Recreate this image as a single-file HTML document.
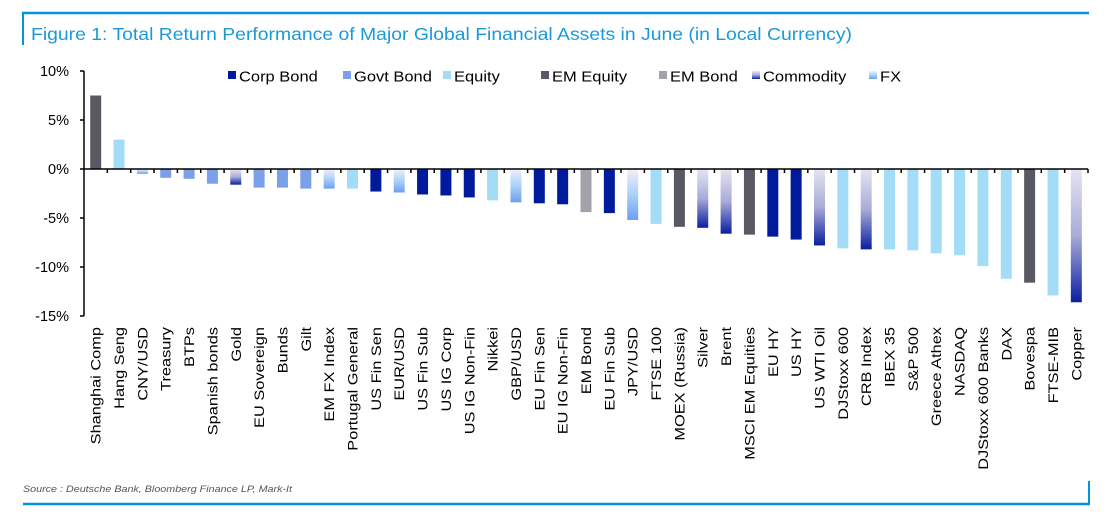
<!DOCTYPE html>
<html><head><meta charset="utf-8"><style>
html,body{margin:0;padding:0;background:#fff;}
body{width:1114px;height:522px;position:relative;overflow:hidden;font-family:"Liberation Sans",sans-serif;}
</style></head><body>
<svg id="chart" width="1114" height="522" xmlns="http://www.w3.org/2000/svg">
<defs>
<linearGradient id="gComm" x1="0" y1="0" x2="0" y2="1"><stop offset="0" stop-color="#e4e4f2"/><stop offset="0.5" stop-color="#a9abd8"/><stop offset="1" stop-color="#0a1fa0"/></linearGradient>
<linearGradient id="gFX" x1="0" y1="0" x2="0" y2="1"><stop offset="0" stop-color="#f4eef8"/><stop offset="0.5" stop-color="#a9d2fa"/><stop offset="1" stop-color="#6e9ff0"/></linearGradient>
</defs>
<line x1="22" y1="13" x2="1089" y2="13" stroke="#0096dc" stroke-width="2.5"/>
<line x1="23" y1="12" x2="23" y2="45" stroke="#0096dc" stroke-width="2"/>
<line x1="23" y1="504" x2="1090" y2="504" stroke="#0096dc" stroke-width="2.5"/>
<line x1="1089" y1="481" x2="1089" y2="505" stroke="#0096dc" stroke-width="2"/>
<text x="31" y="40" font-size="17.5" fill="#1a9ad9" textLength="821" lengthAdjust="spacingAndGlyphs">Figure 1: Total Return Performance of Major Global Financial Assets in June (in Local Currency)</text>
<text x="23" y="492" font-size="9.5" font-style="italic" fill="#555" textLength="269" lengthAdjust="spacingAndGlyphs">Source : Deutsche Bank, Bloomberg Finance LP, Mark-It</text>
<g id="plot"></g>
<g id="legend"></g>
</svg>
<script>
const categories=["Shanghai Comp","Hang Seng","CNY/USD","Treasury","BTPs","Spanish bonds","Gold","EU Sovereign","Bunds","Gilt","EM FX Index","Portugal General","US Fin Sen","EUR/USD","US Fin Sub","US IG Corp","US IG Non-Fin","Nikkei","GBP/USD","EU Fin Sen","EU IG Non-Fin","EM Bond","EU Fin Sub","JPY/USD","FTSE 100","MOEX (Russia)","Silver","Brent","MSCI EM Equities","EU HY","US HY","US WTI Oil","DJStoxx 600","CRB Index","IBEX 35","S&P 500","Greece Athex","NASDAQ","DJStoxx 600 Banks","DAX","Bovespa","FTSE-MIB","Copper"];
const values=[7.5,3.0,-0.5,-0.9,-1.0,-1.5,-1.6,-1.9,-1.9,-2.0,-2.0,-2.0,-2.3,-2.4,-2.6,-2.7,-2.9,-3.2,-3.4,-3.5,-3.6,-4.4,-4.5,-5.2,-5.6,-5.9,-6.0,-6.6,-6.7,-6.9,-7.2,-7.8,-8.1,-8.2,-8.2,-8.3,-8.6,-8.8,-9.9,-11.2,-11.6,-12.9,-13.6];
const types=["EM Equity","Equity","FX","Govt Bond","Govt Bond","Govt Bond","Commodity","Govt Bond","Govt Bond","Govt Bond","FX","Equity","Corp Bond","FX","Corp Bond","Corp Bond","Corp Bond","Equity","FX","Corp Bond","Corp Bond","EM Bond","Corp Bond","FX","Equity","EM Equity","Commodity","Commodity","EM Equity","Corp Bond","Corp Bond","Commodity","Equity","Commodity","Equity","Equity","Equity","Equity","Equity","Equity","EM Equity","Equity","Commodity"];
const seriesNames=["Corp Bond","Govt Bond","Equity","EM Equity","EM Bond","Commodity","FX"];
const yTicks=[10,5,0,-5,-10,-15];
const yTickLabels=["10%","5%","0%","-5%","-10%","-15%"];
const fills={"Corp Bond":"#001a9c","Govt Bond":"#7b9fe8","Equity":"#a3dcf7","EM Equity":"#595963","EM Bond":"#a2a2ab","Commodity":"url(#gComm)","FX":"url(#gFX)"};
const NS="http://www.w3.org/2000/svg";
const X0=84,X1=1088,Y10=71,Ym15=316;
const y=v=>Y10+(10-v)*(Ym15-Y10)/25;
const step=(X1-X0)/categories.length;
const x=i=>X0+step*(i+0.5);
const plot=document.getElementById('plot');
function mk(tag,attrs,parent){const e=document.createElementNS(NS,tag);for(const k in attrs)e.setAttribute(k,attrs[k]);parent.appendChild(e);return e;}
let ax=mk('line',{x1:X0,y1:y(10),x2:X0,y2:y(-15),stroke:'#000','stroke-width':1.5},plot);


yTicks.forEach((t,i)=>{
 let tk=mk('line',{x1:X0-4,y1:y(t),x2:X0,y2:y(t),stroke:'#000','stroke-width':1.5},plot);
 
 
 let tx=mk('text',{x:69,y:y(t)+5,'font-size':14.5,'text-anchor':'end',fill:'#000'},plot);
 tx.textContent=yTickLabels[i];
 
 
});
categories.forEach((c,i)=>{
 const v=values[i];
 let r=mk('rect',{x:x(i)-5.5,y:Math.min(y(v),y(0)),width:11,height:Math.abs(y(v)-y(0)),fill:fills[types[i]]},plot);
 
 
 let tx=mk('text',{transform:`translate(${x(i)+5},327) rotate(-90) scale(1.17,1)`,'font-size':14,'text-anchor':'end',fill:'#000'},plot);
 tx.textContent=c;
 
 
 let tk=mk('line',{x1:X0+step*(i+1),y1:y(0),x2:X0+step*(i+1),y2:y(0)+4,stroke:'#000','stroke-width':1.5},plot);
 
 
});
let zl=mk('line',{x1:X0,y1:y(0),x2:X1,y2:y(0),stroke:'#000','stroke-width':1.5},plot);


const leg=document.getElementById('legend');
const legX=[228,343,443,541,659,752,869];
seriesNames.forEach((s,i)=>{
 let g=mk('g',{},leg);
 
 
 mk('rect',{x:legX[i],y:71,width:8,height:8,fill:fills[s]},g);
 let t=mk('text',{transform:`translate(${legX[i]+11},81.5) scale(1.1,1)`,'font-size':15,fill:'#000'},g);
 t.textContent=s;
});
</script>
</body></html>
